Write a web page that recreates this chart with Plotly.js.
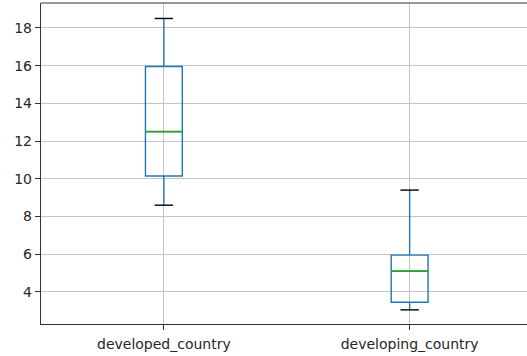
<!DOCTYPE html>
<html>
<head>
<meta charset="utf-8">
<script src="https://cdn.plot.ly/plotly-3.0.1.min.js"></script>
<style>html,body{margin:0;padding:0;background:#fff;}#chart{width:527px;height:356px;}</style>
</head>
<body>
<div id="chart"></div>
<script>
// Data
const categories = ["developed_country", "developing_country"];
const positions = [1, 2];
const lowerWhisker = [8.6, 3.05];
const q1Values = [10.15, 3.45];
const medianValues = [12.5, 5.1];
const q3Values = [15.95, 5.95];
const upperWhisker = [18.5, 9.4];
const yTicks = [4, 6, 8, 10, 12, 14, 16, 18];

const boxWidth = 0.15;
const capHalf = boxWidth / 4;
const medHalf = boxWidth / 2;

function segs(half, vals) {
  const xs = [], ys = [];
  positions.forEach((p, i) => {
    xs.push(p - half, p + half, null);
    ys.push(vals[i], vals[i], null);
  });
  return {x: xs, y: ys};
}

const capLo = segs(capHalf, lowerWhisker);
const capHi = segs(capHalf, upperWhisker);
const med = segs(medHalf, medianValues);

const traces = [
  {
    type: 'box',
    x: positions,
    q1: q1Values,
    median: medianValues,
    q3: q3Values,
    lowerfence: lowerWhisker,
    upperfence: upperWhisker,
    width: boxWidth,
    whiskerwidth: 0,
    boxpoints: false,
    fillcolor: 'rgba(0,0,0,0)',
    line: {color: '#1f77b4', width: 1.4},
    hoverinfo: 'skip',
    showlegend: false
  },
  {
    type: 'scatter', mode: 'lines',
    x: capLo.x.concat(capHi.x), y: capLo.y.concat(capHi.y),
    line: {color: '#000000', width: 1.4},
    hoverinfo: 'skip', showlegend: false
  },
  {
    type: 'scatter', mode: 'lines',
    x: med.x, y: med.y,
    line: {color: '#2ca02c', width: 1.7},
    hoverinfo: 'skip', showlegend: false
  }
];

const layout = {
  width: 527, height: 356,
  margin: {l: 41, r: 0, t: 3, b: 32, pad: 0},
  paper_bgcolor: '#ffffff',
  plot_bgcolor: '#ffffff',
  showlegend: false,
  font: {family: 'DejaVu Sans', size: 14, color: '#262626'},
  xaxis: {
    range: [0.5, 2.4776],
    tickmode: 'array',
    tickvals: positions,
    ticktext: categories,
    showgrid: true, gridcolor: '#c4c4c4', gridwidth: 1,
    zeroline: false,
    showline: true, linecolor: '#333333', linewidth: 1.2,
    ticks: 'outside', ticklen: 5, tickcolor: '#333333', tickwidth: 1,
    ticklabelstandoff: 2,
    fixedrange: true
  },
  yaxis: {
    range: [2.30, 19.32],
    tickmode: 'array',
    tickvals: yTicks,
    ticktext: yTicks.map(String),
    showgrid: true, gridcolor: '#c4c4c4', gridwidth: 1,
    zeroline: false,
    showline: true, linecolor: '#333333', linewidth: 1.2,
    ticks: 'outside', ticklen: 5, tickcolor: '#333333', tickwidth: 1,
    fixedrange: true
  },
  shapes: [
    {type: 'line', xref: 'paper', yref: 'paper', x0: 0, x1: 1, y0: 1, y1: 1,
     line: {color: '#333333', width: 1.2}}
  ]
};

Plotly.newPlot('chart', traces, layout, {displayModeBar: false, staticPlot: true});
</script>
</body>
</html>
